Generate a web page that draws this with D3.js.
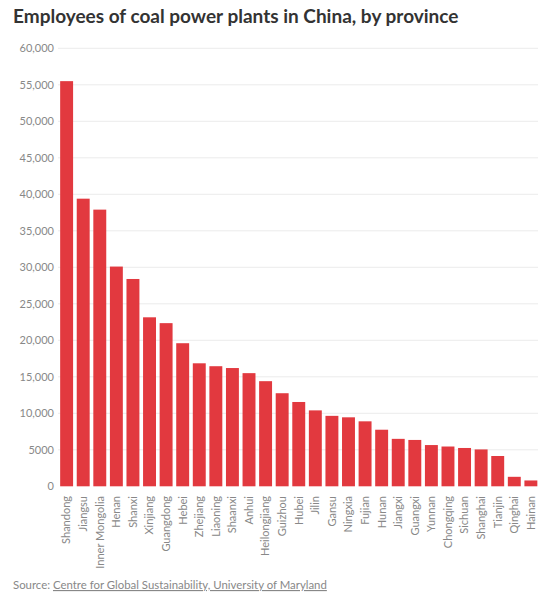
<!DOCTYPE html>
<html>
<head>
<meta charset="utf-8">
<script src="https://cdn.jsdelivr.net/npm/d3@7"></script>
<style>
  html, body { margin: 0; padding: 0; background: #fff; }
  svg { display: block; }
</style>
</head>
<body>
<svg id="chart" width="560" height="611"></svg>
<script>
const provinces = ["Shandong","Jiangsu","Inner Mongolia","Henan","Shanxi","Xinjiang","Guangdong","Hebei","Zhejiang","Liaoning","Shaanxi","Anhui","Heilongjiang","Guizhou","Hubei","Jilin","Gansu","Ningxia","Fujian","Hunan","Jiangxi","Guangxi","Yunnan","Chongqing","Sichuan","Shanghai","Tianjin","Qinghai","Hainan"];
const employees = [55500,39400,37900,30100,28400,23150,22350,19600,16850,16450,16200,15500,14400,12750,11550,10400,9650,9450,8900,7750,6500,6350,5650,5450,5250,5050,4150,1300,800];
const yTicks = [0,5000,10000,15000,20000,25000,30000,35000,40000,45000,50000,55000,60000];
const titleText = "Employees of coal power plants in China, by province";
const sourceLabel = "Source: ";
const sourceLink = "Centre for Global Sustainability, University of Maryland";

const svg = d3.select("#chart");
const font = "Lato, 'Open Sans', sans-serif";

const x = d3.scaleBand().domain(provinces).range([58.5, 539]).paddingInner(0.22).paddingOuter(0.1);
const y = d3.scaleLinear().domain([0, 60000]).range([486.3, 48.3]);

const fmt = v => v < 10000 ? String(v) : d3.format(",")(v);

svg.append("text")
  .attr("x", 13).attr("y", 23)
  .attr("font-family", font).attr("font-weight", 700).attr("font-size", 19)
  .attr("fill", "#333")
  .text(titleText);

// gridlines + y labels
const gy = svg.append("g");
gy.selectAll("line").data(yTicks.filter(d => d > 0)).join("line")
  .attr("x1", 58).attr("x2", 538)
  .attr("y1", d => y(d)).attr("y2", d => y(d))
  .attr("stroke", "#ececec").attr("stroke-width", 1);
gy.selectAll("text").data(yTicks).join("text")
  .attr("x", 54).attr("y", d => y(d)).attr("dy", "0.35em")
  .attr("text-anchor", "end")
  .attr("font-family", font).attr("font-size", 11).attr("fill", "#888")
  .text(fmt);

// bars
svg.append("g").selectAll("rect").data(provinces).join("rect")
  .attr("x", d => x(d))
  .attr("width", x.bandwidth())
  .attr("y", (d, i) => y(employees[i]))
  .attr("height", (d, i) => y(0) - y(employees[i]))
  .attr("fill", "#e2393f");

// x labels
svg.append("g").selectAll("text").data(provinces).join("text")
  .attr("transform", d => `translate(${x(d) + x.bandwidth() / 2},${496})rotate(-90)`)
  .attr("dy", "0.35em")
  .attr("text-anchor", "end")
  .attr("font-family", font).attr("font-size", 11).attr("fill", "#888")
  .text(d => d);

// source
const src = svg.append("text")
  .attr("x", 13).attr("y", 589)
  .attr("font-family", font).attr("font-size", 11.4).attr("fill", "#888");
src.append("tspan").text(sourceLabel);
src.append("tspan").attr("text-decoration", "underline").text(sourceLink);
</script>
</body>
</html>
